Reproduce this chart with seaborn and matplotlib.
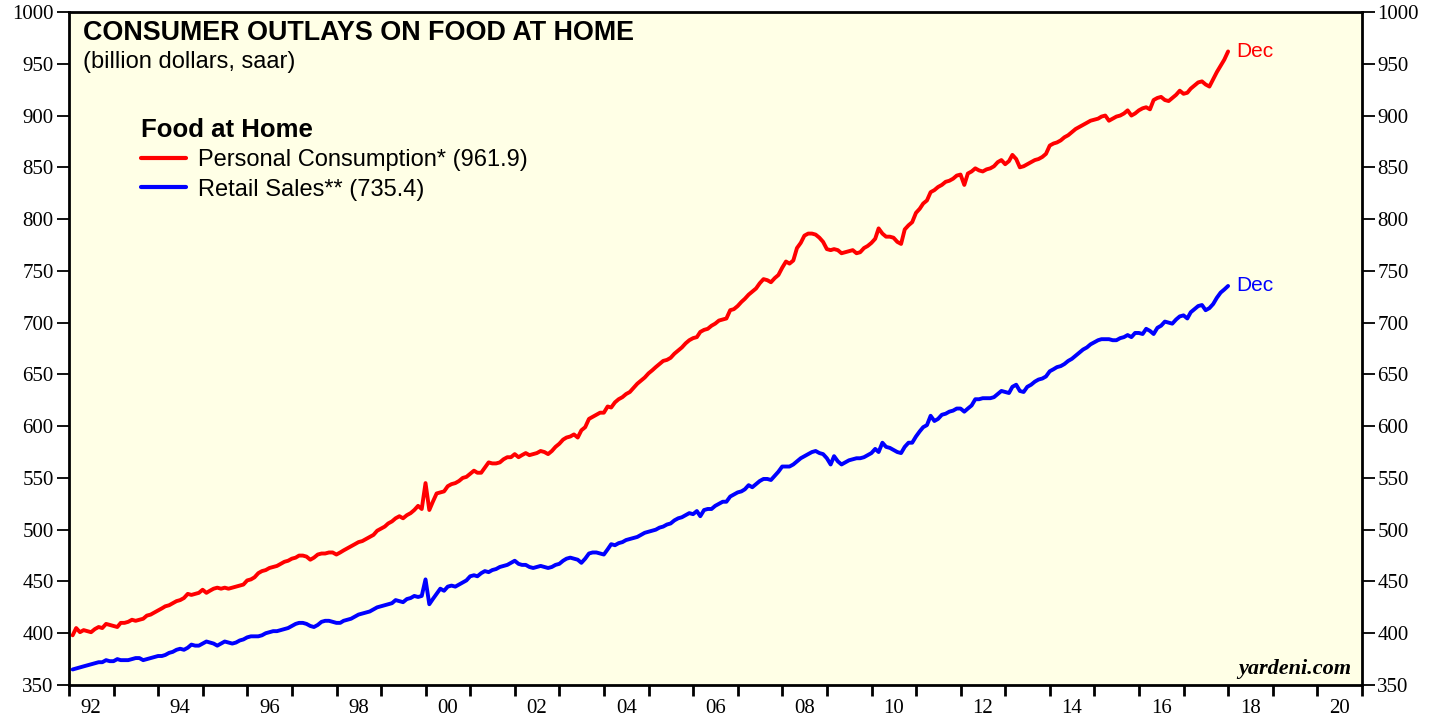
import matplotlib
matplotlib.use("Agg")
from matplotlib import pyplot as plt
import matplotlib.dates as mdates
from matplotlib.ticker import NullFormatter
import pandas as pd
import seaborn as sns

# monthly, Jan 1992 - Dec 2017, billion dollars saar
months = pd.date_range("1992-01-31", "2017-12-31", freq="ME")

personal_consumption = [
    398, 405, 401, 403, 402, 401, 404, 406, 405, 409, 408, 407,  # 1992
    406, 410, 410, 411, 413, 412, 413, 414, 417, 418, 420, 422,  # 1993
    424, 426, 427, 429, 431, 432, 434, 438, 437, 438, 439, 442,  # 1994
    439, 441, 443, 444, 443, 444, 443, 444, 445, 446, 447, 451,  # 1995
    452, 454, 458, 460, 461, 463, 464, 465, 467, 469, 470, 472,  # 1996
    473, 475, 475, 474, 471, 473, 476, 477, 477, 478, 478, 476,  # 1997
    478, 480, 482, 484, 486, 488, 489, 491, 493, 495, 499, 501,  # 1998
    503, 506, 508, 511, 513, 511, 514, 516, 519, 523, 520, 545,  # 1999
    519, 527, 535, 536, 537, 542, 544, 545, 547, 550, 551, 554,  # 2000
    557, 555, 555, 560, 565, 564, 564, 565, 568, 570, 570, 573,  # 2001
    570, 572, 574, 572, 573, 574, 576, 575, 573, 576, 580, 583,  # 2002
    587, 589, 590, 592, 589, 596, 599, 607, 609, 611, 613, 613,  # 2003
    619, 618, 623, 626, 628, 631, 633, 637, 641, 644, 647, 651,  # 2004
    654, 657, 660, 663, 664, 666, 670, 673, 676, 680, 683, 685,  # 2005
    686, 691, 693, 694, 697, 699, 702, 703, 704, 712, 713, 716,  # 2006
    720, 723, 727, 730, 733, 738, 742, 741, 739, 743, 746, 753,  # 2007
    759, 757, 760, 772, 777, 784, 786, 786, 785, 782, 778, 771,  # 2008
    770, 771, 770, 767, 768, 769, 770, 767, 768, 772, 774, 777,  # 2009
    781, 791, 786, 783, 783, 782, 778, 776, 790, 794, 797, 806,  # 2010
    810, 815, 818, 826, 828, 831, 833, 836, 837, 839, 842, 843,  # 2011
    833, 844, 846, 849, 847, 846, 848, 849, 851, 855, 857, 853,  # 2012
    856, 862, 858, 850, 851, 853, 855, 857, 858, 860, 863, 871,  # 2013
    873, 874, 876, 879, 881, 884, 887, 889, 891, 893, 895, 896,  # 2014
    897, 899, 900, 895, 897, 899, 900, 902, 905, 900, 902, 905,  # 2015
    907, 908, 906, 915, 917, 918, 915, 914, 917, 920, 924, 921,  # 2016
    922, 926, 929, 932, 933, 930, 928, 935, 942, 948, 954, 961.9,  # 2017
]

retail_sales = [
    365, 366, 367, 368, 369, 370, 371, 372, 372, 374, 373, 373,  # 1992
    375, 374, 374, 374, 375, 376, 376, 374, 375, 376, 377, 378,  # 1993
    378, 379, 381, 382, 384, 385, 384, 386, 389, 388, 388, 390,  # 1994
    392, 391, 390, 388, 390, 392, 391, 390, 391, 393, 394, 396,  # 1995
    397, 397, 397, 398, 400, 401, 402, 402, 403, 404, 405, 407,  # 1996
    409, 410, 410, 409, 407, 406, 408, 411, 412, 412, 411, 410,  # 1997
    410, 412, 413, 414, 416, 418, 419, 420, 421, 423, 425, 426,  # 1998
    427, 428, 429, 432, 431, 430, 433, 434, 436, 435, 436, 452,  # 1999
    428, 433, 438, 443, 441, 445, 446, 445, 447, 449, 451, 455,  # 2000
    456, 455, 458, 460, 459, 461, 462, 464, 465, 466, 468, 470,  # 2001
    467, 466, 466, 464, 463, 464, 465, 464, 463, 464, 466, 467,  # 2002
    470, 472, 473, 472, 471, 468, 472, 477, 478, 478, 477, 476,  # 2003
    481, 486, 485, 487, 488, 490, 491, 492, 493, 495, 497, 498,  # 2004
    499, 500, 502, 503, 505, 506, 509, 511, 512, 514, 516, 515,  # 2005
    518, 513, 519, 520, 520, 523, 525, 527, 527, 532, 534, 536,  # 2006
    537, 539, 543, 541, 544, 547, 549, 549, 548, 552, 556, 561,  # 2007
    561, 561, 563, 566, 569, 571, 573, 575, 576, 574, 573, 569,  # 2008
    563, 571, 566, 563, 565, 567, 568, 569, 569, 570, 572, 574,  # 2009
    578, 575, 584, 580, 579, 577, 575, 574, 580, 584, 584, 590,  # 2010
    595, 599, 601, 610, 605, 607, 611, 612, 614, 615, 617, 617,  # 2011
    614, 617, 620, 626, 626, 627, 627, 627, 628, 631, 634, 633,  # 2012
    632, 638, 640, 634, 633, 638, 640, 643, 645, 646, 648, 653,  # 2013
    655, 657, 658, 660, 663, 665, 668, 671, 674, 676, 679, 681,  # 2014
    683, 684, 684, 684, 683, 683, 685, 686, 688, 686, 690, 690,  # 2015
    689, 694, 692, 689, 695, 697, 701, 700, 699, 703, 706, 707,  # 2016
    704, 710, 713, 716, 717, 712, 714, 718, 724, 729, 732, 735.4,  # 2017
]

series_names = ["Personal Consumption* (961.9)", "Retail Sales** (735.4)"]
series_colors = ["#ff0000", "#0000ff"]


def main() -> None:
    sns.set_style("ticks")
    plt.rcParams["font.family"] = ["Liberation Sans", "DejaVu Sans"]
    plt.rcParams["text.color"] = "black"
    plt.rcParams["xtick.color"] = "black"
    plt.rcParams["ytick.color"] = "black"

    data = pd.DataFrame({
        "date": months,
        series_names[0]: personal_consumption,
        series_names[1]: retail_sales,
    }).melt(id_vars="date", var_name="series", value_name="value")

    fig = plt.figure(figsize=(14.46, 7.19), dpi=100)
    ax = fig.add_axes([0.0477, 0.0473, 0.8942, 0.936])
    ax.set_facecolor("#ffffe6")

    sns.lineplot(data=data, x="date", y="value", hue="series",
                 palette=dict(zip(series_names, series_colors)),
                 linewidth=2.8, ax=ax)

    ax.set_xlim(pd.Timestamp("1992-01-01"), pd.Timestamp("2021-01-01"))
    ax.set_ylim(350, 1000)
    ax.set_yticks(range(350, 1001, 50))
    ax.set(xlabel="", ylabel="")

    # year ticks, labels centred on even years
    ax.xaxis.set_major_locator(mdates.YearLocator(1))
    ax.xaxis.set_major_formatter(NullFormatter())
    ax.xaxis.set_minor_locator(mdates.YearLocator(2, month=7, day=1))
    ax.xaxis.set_minor_formatter(mdates.DateFormatter("%y"))
    ax.tick_params(axis="x", which="major", direction="out", length=8, width=2.0, color="black")
    ax.tick_params(axis="x", which="minor", length=0, pad=10, labelcolor="black")
    ax.tick_params(axis="y", direction="out", length=9, width=1.3, color="black", labelcolor="black",
                   left=True, right=True, labelleft=True, labelright=True, pad=2)
    for lab in ax.get_xticklabels(minor=True) + ax.yaxis.get_ticklabels(which="both"):
        lab.set_fontfamily("Liberation Serif")
        lab.set_fontsize(15)
    for side in ax.spines.values():
        side.set_visible(True)
        side.set_linewidth(2.0)
        side.set_color("black")

    handles, labels = ax.get_legend_handles_labels()
    leg = ax.legend(handles, labels, title="Food at Home", loc="upper left",
                    bbox_to_anchor=(0.0557, 0.842), frameon=False, fontsize=17,
                    handlelength=1.9, handletextpad=0.5, labelspacing=0.3,
                    borderpad=0, borderaxespad=0, alignment="left",
                    title_fontproperties={"weight": "bold", "size": 18.5})
    leg.get_title().set_color("black")
    for text in leg.get_texts():
        text.set_color("black")
    for line in leg.get_lines():
        line.set_linewidth(3)

    ax.text(0.0108, 0.969, "CONSUMER OUTLAYS ON FOOD AT HOME", transform=ax.transAxes,
            fontsize=19.4, fontweight="bold", va="center", ha="left", color="black")
    ax.text(0.0108, 0.9257, "(billion dollars, saar)", transform=ax.transAxes,
            fontsize=17, va="center", ha="left", color="black")

    # "Dec" tags at the last observation of each series
    for name, values, color in zip(series_names, [personal_consumption, retail_sales], series_colors):
        ax.annotate("Dec", xy=(months[-1], values[-1]), xytext=(6, 0),
                    textcoords="offset points", color=color, fontsize=15,
                    va="center", ha="left")

    ax.text(0.992, 0.024, "yardeni.com", transform=ax.transAxes, ha="right", va="center",
            fontsize=16, fontweight="bold", fontstyle="italic", fontfamily="Liberation Serif",
            color="black")

    fig.savefig("out.png", dpi=100, facecolor="white")


if __name__ == "__main__":
    main()
